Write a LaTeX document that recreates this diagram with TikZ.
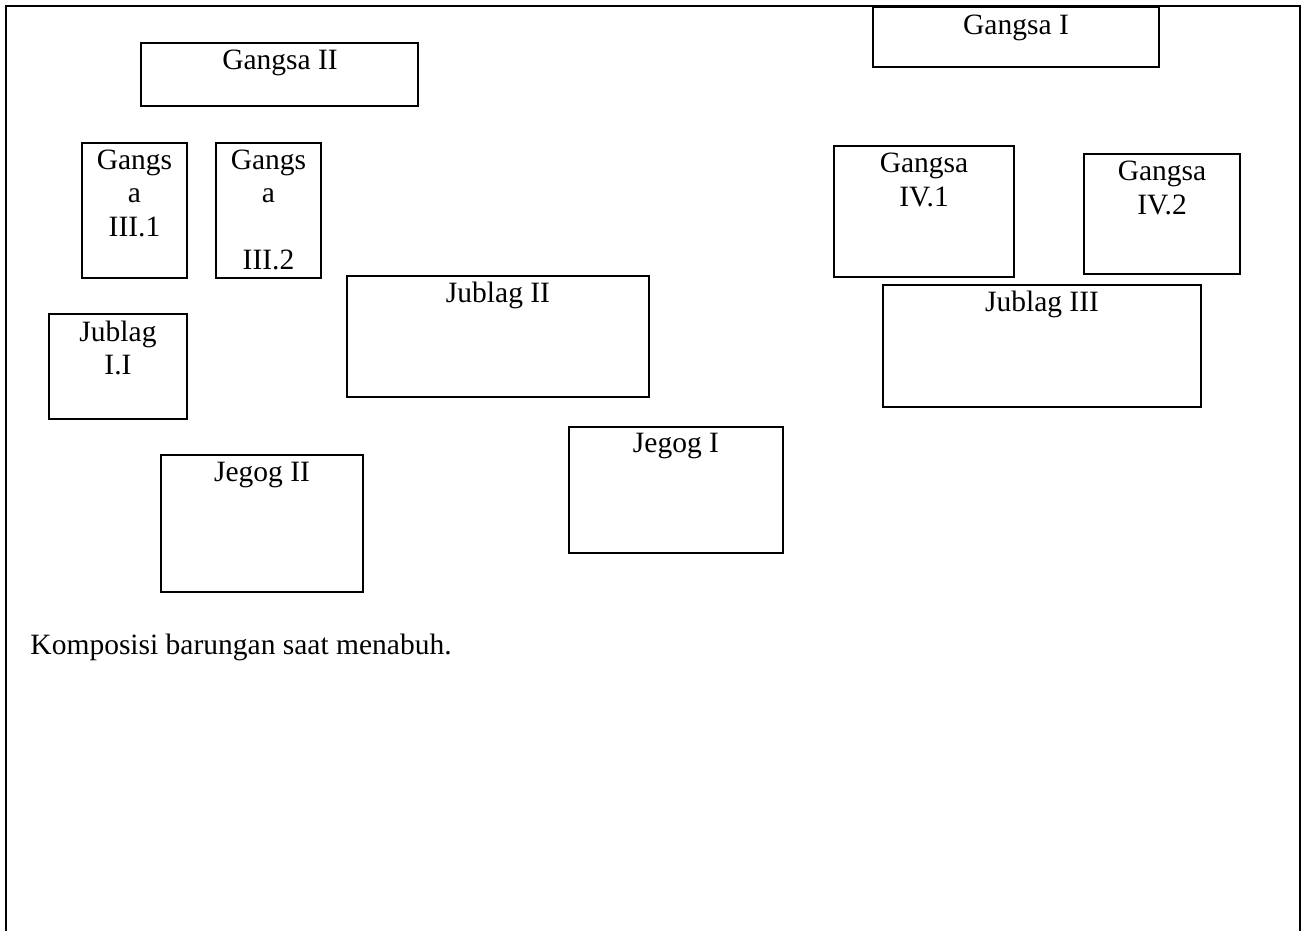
\documentclass[tikz,border=0pt]{standalone}
\usepackage{fontspec}
\setmainfont{Liberation Serif}
\usetikzlibrary{fit}
\tikzset{
  box/.style={draw, line width=0.65pt, inner sep=0pt, fill=none},
  lbl/.style={font=\fontsize{11.8}{13.6}\selectfont, inner sep=0pt, anchor=base},
  frame/.style={line width=0.65pt}
}
\begin{document}
\begin{tikzpicture}[x=0.4pt,y=-0.4pt]
\useasboundingbox (0,0) rectangle (1306,931);
% outer frame (open at the bottom)
\draw[frame] (6,931) -- (6,6) -- (1300,6) -- (1300,931);

% boxes
\node[box, fit={(141,43) (418,106)}] (g2) {};
\node[box, fit={(873,7) (1159,67)}] (g1) {};
\node[box, fit={(82,143) (187,278)}] (g31) {};
\node[box, fit={(216,143) (321,278)}] (g32) {};
\node[box, fit={(834,146) (1014,277)}] (g41) {};
\node[box, fit={(1084,154) (1240,274)}] (g42) {};
\node[box, fit={(347,276) (649,397)}] (j2) {};
\node[box, fit={(883,285) (1201,407)}] (j3) {};
\node[box, fit={(49,314) (187,419)}] (j11) {};
\node[box, fit={(161,455) (363,592)}] (jg2) {};
\node[box, fit={(569,427) (783,553)}] (jg1) {};

% labels
\node[lbl] (g2t) at (280,70) {Gangsa II};
\node[lbl] (g1t) at (1016,35) {Gangsa I};
\node[lbl] (g31a) at (134.5,170) {Gangs};
\node[lbl] (g31b) at (134.5,203) {a};
\node[lbl] (g31c) at (134.5,237) {III.1};
\node[lbl] (g32a) at (268.5,170) {Gangs};
\node[lbl] (g32b) at (268.5,203) {a};
\node[lbl] (g32c) at (268.5,270) {III.2};
\node[lbl] (g41a) at (924,173) {Gangsa};
\node[lbl] (g41b) at (924,207) {IV.1};
\node[lbl] (g42a) at (1162,181) {Gangsa};
\node[lbl] (g42b) at (1162,215) {IV.2};
\node[lbl] (j2t) at (498,303) {Jublag II};
\node[lbl] (j3t) at (1042,312) {Jublag III};
\node[lbl] (j11a) at (118,342) {Jublag};
\node[lbl] (j11b) at (118,375) {I.I};
\node[lbl] (jg2t) at (262,482) {Jegog II};
\node[lbl] (jg1t) at (676,453) {Jegog I};

% caption
\node[lbl, anchor=base west] (cap) at (30,654) {Komposisi barungan saat menabuh.};
\end{tikzpicture}
\end{document}
